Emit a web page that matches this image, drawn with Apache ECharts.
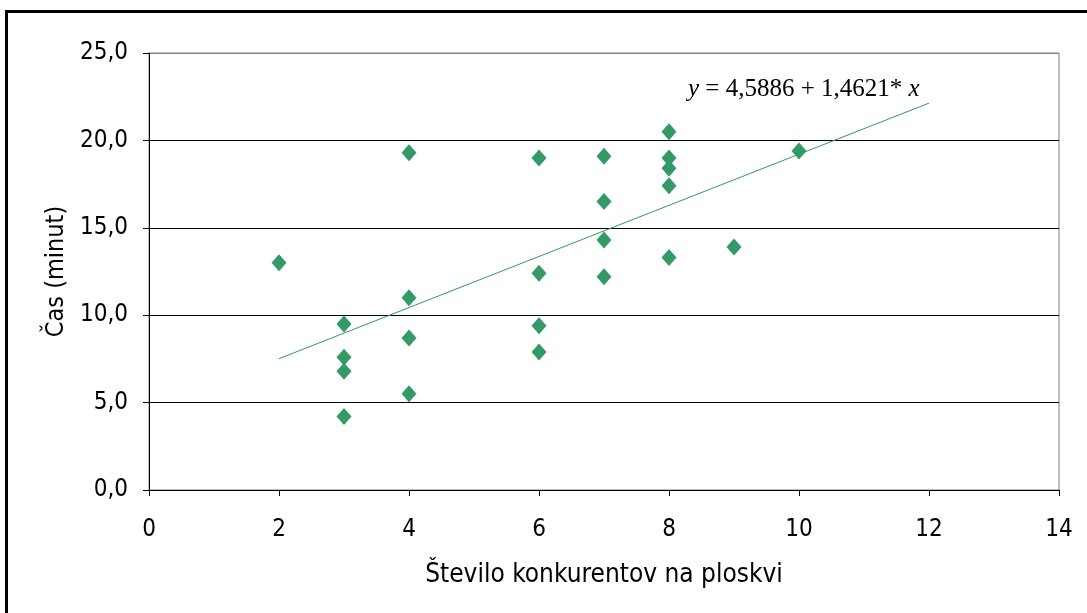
<!DOCTYPE html>
<html>
<head>
<meta charset="utf-8">
<script src="https://cdn.jsdelivr.net/npm/echarts@6/dist/echarts.min.js"></script>
<style>
  html, body { margin: 0; padding: 0; background: #fff; }
  #chart { width: 1087px; height: 613px; }
</style>
</head>
<body>
<div id="chart"></div>
<script>
// število konkurentov (x) in čas v minutah (y)
const konkurenti = [2, 3, 3, 3, 3, 4, 4, 4, 4, 6, 6, 6, 6, 7, 7, 7, 7, 8, 8, 8, 8, 8, 9, 10];
const cas = [13.0, 9.5, 7.6, 6.8, 4.2, 19.3, 11.0, 8.7, 5.5, 19.0, 12.4, 9.4, 7.9, 19.1, 16.5, 14.3, 12.2, 20.5, 19.0, 18.4, 17.4, 13.3, 13.9, 19.4];

// regresijska premica iz enačbe na grafu
const intercept = 4.5886;
const slope = 1.4621;
const trendX = [2, 12];

const xTicks = [0, 2, 4, 6, 8, 10, 12, 14];
const yTicks = [0, 5, 10, 15, 20, 25];

const green = "#339966";
const font = "'DejaVu Sans Condensed', 'DejaVu Sans'";

const points = konkurenti.map((x, i) => [x, cas[i]]);
const trend = trendX.map(x => [x, intercept + slope * x]);

const chart = echarts.init(document.getElementById("chart"));
chart.setOption({
  animation: false,
  backgroundColor: "#fff",
  grid: {
    left: 149,
    right: 28,
    top: 53,
    bottom: 123,
    show: true,
    borderColor: "#808080",
    borderWidth: 1
  },
  xAxis: {
    type: "value",
    min: xTicks[0],
    max: xTicks[xTicks.length - 1],
    interval: 2,
    name: "Število konkurentov na ploskvi",
    nameLocation: "middle",
    nameGap: 72,
    nameTextStyle: { fontFamily: font, fontSize: 26, color: "#000" },
    axisLine: { lineStyle: { color: "#000", width: 1 } },
    axisTick: { show: true, inside: false, length: 6, lineStyle: { color: "#000" } },
    axisLabel: { fontFamily: font, fontSize: 24, color: "#000", margin: 28 },
    splitLine: { show: false }
  },
  yAxis: {
    type: "value",
    min: yTicks[0],
    max: yTicks[yTicks.length - 1],
    interval: 5,
    name: "Čas (minut)",
    nameLocation: "middle",
    nameGap: 79,
    nameRotate: 90,
    nameTextStyle: { fontFamily: font, fontSize: 25, color: "#000" },
    axisLine: { show: true, lineStyle: { color: "#000", width: 1 } },
    axisTick: { show: true, inside: false, length: 6, lineStyle: { color: "#000" } },
    axisLabel: {
      fontFamily: font,
      fontSize: 24,
      color: "#000",
      margin: 21,
      formatter: v => v.toFixed(1).replace(".", ",")
    },
    splitLine: {
      show: true,
      lineStyle: { color: ["#000", "#000", "#000", "#000", "#000", "#808080"], width: 1 }
    }
  },
  series: [
    {
      type: "line",
      data: trend,
      symbol: "none",
      lineStyle: { color: green, width: 1 },
      z: 2
    },
    {
      type: "scatter",
      data: points,
      symbol: "diamond",
      symbolSize: [15, 17],
      itemStyle: { color: green, opacity: 1 },
      z: 3
    }
  ],
  graphic: [
    {
      type: "rect",
      shape: { x: 6.5, y: 11.5, width: 1200, height: 700 },
      style: { fill: "none", stroke: "#000", lineWidth: 3 },
      silent: true
    },
    {
      type: "text",
      left: 688,
      top: 77,
      style: {
        text: "{i|y} = 4,5886 + 1,4621* {i|x}",
        font: "25px 'Liberation Serif'",
        fill: "#000",
        rich: {
          i: { fontFamily: "Liberation Serif", fontStyle: "italic", fontSize: 25 }
        }
      }
    }
  ]
});
</script>
</body>
</html>
